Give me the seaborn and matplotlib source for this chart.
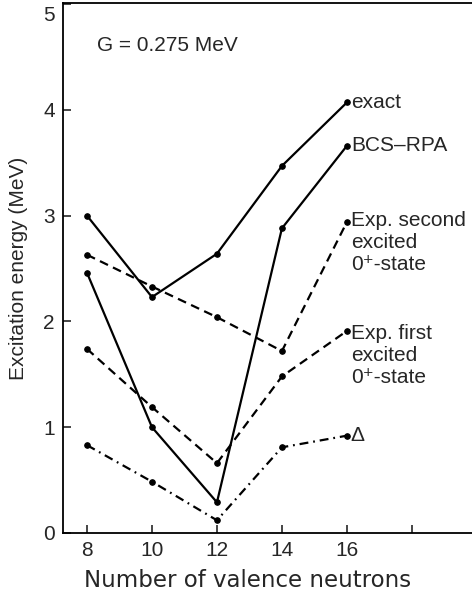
import matplotlib
matplotlib.use("Agg")
import matplotlib.pyplot as plt
import matplotlib.transforms as mtransforms
import seaborn as sns

# Excitation energies (MeV) versus number of valence neutrons
neutrons = [8, 10, 12, 14, 16]
exact = [3.00, 2.23, 2.64, 3.47, 4.07]
bcs_rpa = [2.46, 1.00, 0.29, 2.88, 3.66]
exp_second = [2.63, 2.33, 2.04, 1.72, 2.94]
exp_first = [1.74, 1.19, 0.66, 1.48, 1.91]
gap = [0.83, 0.485, 0.12, 0.81, 0.92]

x_ticks = [8, 10, 12, 14, 16, 18]
x_tick_labels = ["8", "10", "12", "14", "16", ""]
y_ticks = [0, 1, 2, 3, 4, 5]

sns.set_style("ticks")
plt.rcParams["font.family"] = ["Liberation Sans", "DejaVu Sans"]
plt.rcParams["font.size"] = 15

fig = plt.figure(figsize=(4.72, 5.98), dpi=100)
ax = fig.add_axes([0.1335, 0.1087, 0.8665, 0.8863])

series = [
    (exact, "-", "exact", 0.0, "center"),
    (bcs_rpa, "-", "BCS\u2013RPA", 0.0, "center"),
    (exp_second, (0, (4, 2.5)), "Exp. second\nexcited\n0\u207a-state", 0.10, "top"),
    (exp_first, (0, (4, 2.5)), "Exp. first\nexcited\n0\u207a-state", 0.07, "top"),
    (gap, (0, (4, 2.2, 0.8, 2.2)), "\u0394", 0.0, "center"),
]

for values, ls, label, dy, va in series:
    sns.lineplot(x=neutrons, y=values, ax=ax, color="black", linestyle=ls,
                 linewidth=1.6, marker="o", markersize=4,
                 markeredgecolor="black", markerfacecolor="black")
    ax.text(neutrons[-1] + 0.12, values[-1] + dy, label, ha="left", va=va,
            fontsize=15, linespacing=1.2)

ax.text(8.31, 4.61, "G = 0.275 MeV", ha="left", va="center", fontsize=15)

ax.set_xlim(7.262, 19.85)
ax.set_ylim(0, 5.01)
ax.set_xticks(x_ticks)
ax.set_xticklabels(x_tick_labels)
ax.set_yticks(y_ticks)
ax.tick_params(direction="in", length=6, width=1.2, labelsize=15, pad=6)

# keep the top tick label inside the figure
top_label = ax.get_yticklabels()[-1]
top_label.set_transform(top_label.get_transform() +
                        mtransforms.ScaledTranslation(0, -9 / 100, fig.dpi_scale_trans))

for side in ["left", "bottom", "top"]:
    ax.spines[side].set_linewidth(1.3)
    ax.spines[side].set_color("black")
ax.spines["right"].set_visible(False)

ax.set_xlabel("Number of valence neutrons", fontsize=16.5, labelpad=6,
              family=["DejaVu Sans"])
ax.xaxis.label.set_x(0.452)
ax.set_ylabel("Excitation energy (MeV)", fontsize=15, labelpad=11)

fig.savefig("out.png", dpi=100)
